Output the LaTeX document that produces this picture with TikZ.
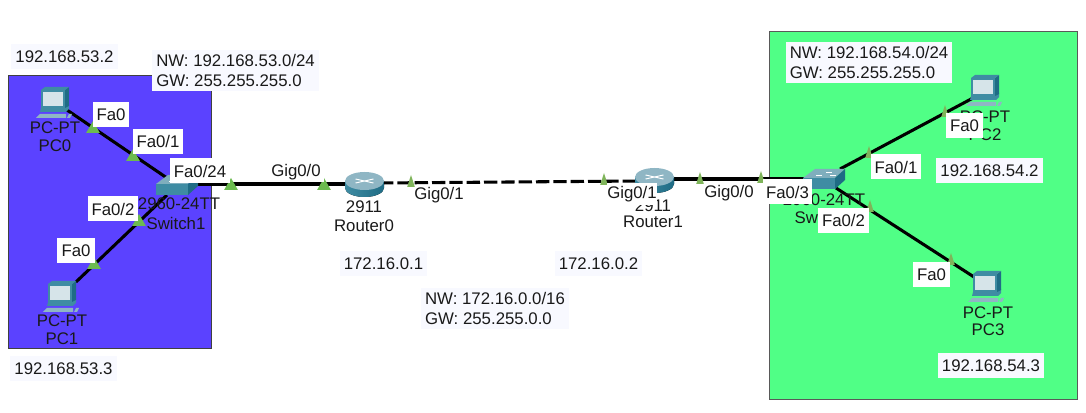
\documentclass[tikz,border=0pt]{standalone}
\usepackage{fontspec}
\setmainfont{Liberation Sans}
\usetikzlibrary{shapes.geometric}
\definecolor{netblue}{HTML}{5B42FF}
\definecolor{netgreen}{HTML}{50FF86}
\definecolor{ipfill}{HTML}{F8F9FF}
\definecolor{portgreen}{HTML}{6CBB4F}
\definecolor{portolive}{HTML}{7FB45A}
\definecolor{iconteal}{HTML}{3F8CA3}
\definecolor{icondark}{HTML}{1F6C85}
\definecolor{iconlight}{HTML}{8FB6C4}
\definecolor{iconscreen}{HTML}{D6E4E9}
\tikzset{
    lab/.style={inner sep=0pt, font=\fontsize{12.6}{15}\selectfont, text=black!90},
    portbox/.style={lab, fill=white, minimum height=25*0.75pt},
    ipbox/.style={lab, fill=ipfill, minimum height=25*0.75pt},
    nwbox/.style={lab, fill=ipfill, align=left, inner xsep=3pt, inner ysep=3.4pt},
    porttri/.style={regular polygon, regular polygon sides=3, fill=portgreen, inner sep=0pt, minimum size=12pt},
    porttrib/.style={porttri, fill=portolive, xscale=0.55, transform shape},
    link/.style={black, line width=2.3pt},
    pics/pcicon/.style={code={
        \fill[iconlight] (-5,31) -- (-1,27) -- (25,27) -- (25,31) -- cycle;
        \fill[iconteal] (0,21) -- (24,21) -- (28,18) -- (28,22) -- (25,25) -- (-1,25) -- cycle;
        \fill[icondark] (24,3) -- (28,0) -- (28,19) -- (24,21) -- cycle;
        \fill[iconteal] (0,3) -- (4,0) -- (28,0) -- (24,3) -- cycle;
        \fill[iconteal] (0,3) rectangle (24,21);
        \fill[iconscreen] (2,5) rectangle (22,19);
        \fill[iconlight] (26,31) -- (28,27) -- (31,27) -- (29,31) -- cycle;
    }},
    pics/switchicon/.style={code={
        \fill[iconlight!80!iconteal] (0,9) -- (12,0) -- (42,0) -- (32,9) -- cycle;
        \fill[iconteal] (0,9) rectangle (32,20);
        \fill[icondark] (32,9) -- (42,0) -- (42,11) -- (32,20) -- cycle;
        \draw[white, line width=0.5pt] (13,6) -- (19,6) (23,3) -- (29,3) (27,6) -- (33,6);
    }},
    pics/routericon/.style={code={
        \fill[left color=iconteal, middle color=iconscreen, right color=icondark]
            (-19.5,9) -- (-19.5,16) arc[start angle=180, end angle=360, x radius=19.5, y radius=-9] -- (19.5,9) -- cycle;
        \fill[iconlight] (0,9) ellipse (19.5 and 9);
        \draw[white, line width=0.7pt] (-9,11) -- (9,7) (-9,7) -- (9,11);
    }}
}
\begin{document}
\begin{tikzpicture}[x=0.75pt, y=-0.75pt]
    \useasboundingbox (0,0) rectangle (1086,413);
    % zones
    \filldraw[fill=netblue, draw=black!75, line width=0.7pt] (8,75) rectangle (211,348);
    \filldraw[fill=netgreen, draw=black!65, line width=0.7pt] (769,31) rectangle (1077,399);
    % ends of the links
    \coordinate (PC0) at (67,110);
    \coordinate (PC1) at (76,282);
    \coordinate (PC2) at (973,98);
    \coordinate (PC3) at (974,277);
    \coordinate (Switch1a) at (167,178);
    \coordinate (Switch1b) at (167,195);
    \coordinate (Switch1c) at (195,184);
    \coordinate (Router0a) at (350,184);
    \coordinate (Router0b) at (380,183);
    \coordinate (Router1a) at (640,181);
    \coordinate (Router1b) at (670,179);
    \coordinate (Switch2a) at (810,179);
    \coordinate (Switch2b) at (840,169);
    \coordinate (Switch2c) at (836,188);
    \draw[link] (PC0) -- (Switch1a);
    \draw[link] (PC1) -- (Switch1b);
    \draw[link] (Switch1c) -- (Router0a);
    \draw[link, dash pattern=on 10pt off 3pt] (Router0b) -- (Router1a);
    \draw[link] (Router1b) -- (Switch2a);
    \draw[link] (Switch2b) -- (PC2);
    \draw[link] (Switch2c) -- (PC3);
    % devices
    \pic at (41,87) {pcicon};
    \pic at (48,281) {pcicon};
    \pic at (971,75) {pcicon};
    \pic at (973,271) {pcicon};
    \pic at (156,175) {switchicon};
    \pic at (803,169) {switchicon};
    \pic at (364.5,172) {routericon};
    \pic at (654.5,168) {routericon};
    % device names
    \node[lab] (pc0type) at (55,128) {PC-PT};
    \node[lab] (pc0name) at (55,146) {PC0};
    \node[lab] (pc1type) at (62,321) {PC-PT};
    \node[lab] (pc1name) at (62,339) {PC1};
    \node[lab] (pc2type) at (985,117) {PC-PT};
    \node[lab] (pc2name) at (985,135) {PC2};
    \node[lab] (pc3type) at (988,313) {PC-PT};
    \node[lab] (pc3name) at (988,330) {PC3};
    \node[lab] (sw1type) at (179,204) {2960-24TT};
    \node[lab] (sw1name) at (176,223) {Switch1};
    \node[lab] (sw2type) at (824,200) {2960-24TT};
    \node[lab] (sw2name) at (824,217) {Switch2};
    \node[lab] (r0type) at (364,207) {2911};
    \node[lab] (r0name) at (364,226) {Router0};
    \node[lab] (r1type) at (653,206) {2911};
    \node[lab] (r1name) at (653,222) {Router1};
    % port marks
    \node[porttri] (t1) at (93,129) {};
    \node[porttri] (t2) at (133,157) {};
    \node[porttri] (t3) at (139,222) {};
    \node[porttri] (t4) at (94,265) {};
    \node[porttri] (t5) at (231,186) {};
    \node[porttri] (t6) at (324,186) {};
    \node[porttrib] (t7) at (411,183) {};
    \node[porttrib] (t8) at (604,181) {};
    \node[porttrib] (t9) at (700,180) {};
    \node[porttrib] (t10) at (761,179) {};
    \node[porttrib] (t11) at (869,154) {};
    \node[porttrib] (t12) at (945,113) {};
    \node[porttrib] (t13) at (870,208) {};
    \node[porttrib] (t14) at (951,261) {};
    % port labels
    \node[portbox, minimum width=27pt] (p1) at (111,115) {Fa0};
    \node[portbox, minimum width=37.5pt] (p2) at (158,141.5) {Fa0/1};
    \node[portbox, minimum width=45pt] (p3) at (200,171) {Fa0/24};
    \node[portbox, minimum width=37.5pt] (p4) at (113,209) {Fa0/2};
    \node[portbox, minimum width=28pt] (p5) at (76,251) {Fa0};
    \node[portbox, minimum width=42pt, minimum height=15pt] (p6) at (296,172) {Gig0/0};
    \node[portbox, minimum width=38pt, minimum height=12pt] (p7) at (439,195) {Gig0/1};
    \node[portbox, minimum width=37.5pt, minimum height=16pt] (p8) at (632,194) {Gig0/1};
    \node[portbox, minimum width=38pt, minimum height=14pt] (p9) at (729,193) {Gig0/0};
    \node[portbox, minimum width=37pt] (p10) at (787.5,192) {Fa0/3};
    \node[portbox, minimum width=37.5pt] (p11) at (896,167) {Fa0/1};
    \node[portbox, minimum width=28pt] (p12) at (964.5,126) {Fa0};
    \node[portbox, minimum width=38pt] (p13) at (843.5,220.5) {Fa0/2};
    \node[portbox, minimum width=28pt] (p14) at (931.5,274.5) {Fa0};
    % addresses
    \node[ipbox, minimum width=80pt] (ip1) at (64.5,57) {192.168.53.2};
    \node[ipbox, minimum width=80pt] (ip2) at (63.5,368.5) {192.168.53.3};
    \node[ipbox, minimum width=65pt] (ip3) at (383.5,264) {172.16.0.1};
    \node[ipbox, minimum width=65pt] (ip4) at (598.5,264) {172.16.0.2};
    \node[ipbox, minimum width=80pt] (ip5) at (989.5,170.5) {192.168.54.2};
    \node[ipbox, minimum width=80pt] (ip6) at (991,365.5) {192.168.54.3};
    % networks
    \node[nwbox] (nw1) at (235.5,70.5) {NW: 192.168.53.0/24\\GW: 255.255.255.0};
    \node[nwbox] (nw2) at (869,62.5) {NW: 192.168.54.0/24\\GW: 255.255.255.0};
    \node[nwbox] (nw3) at (495,308.5) {NW: 172.16.0.0/16\\GW: 255.255.0.0};
\end{tikzpicture}
\end{document}
